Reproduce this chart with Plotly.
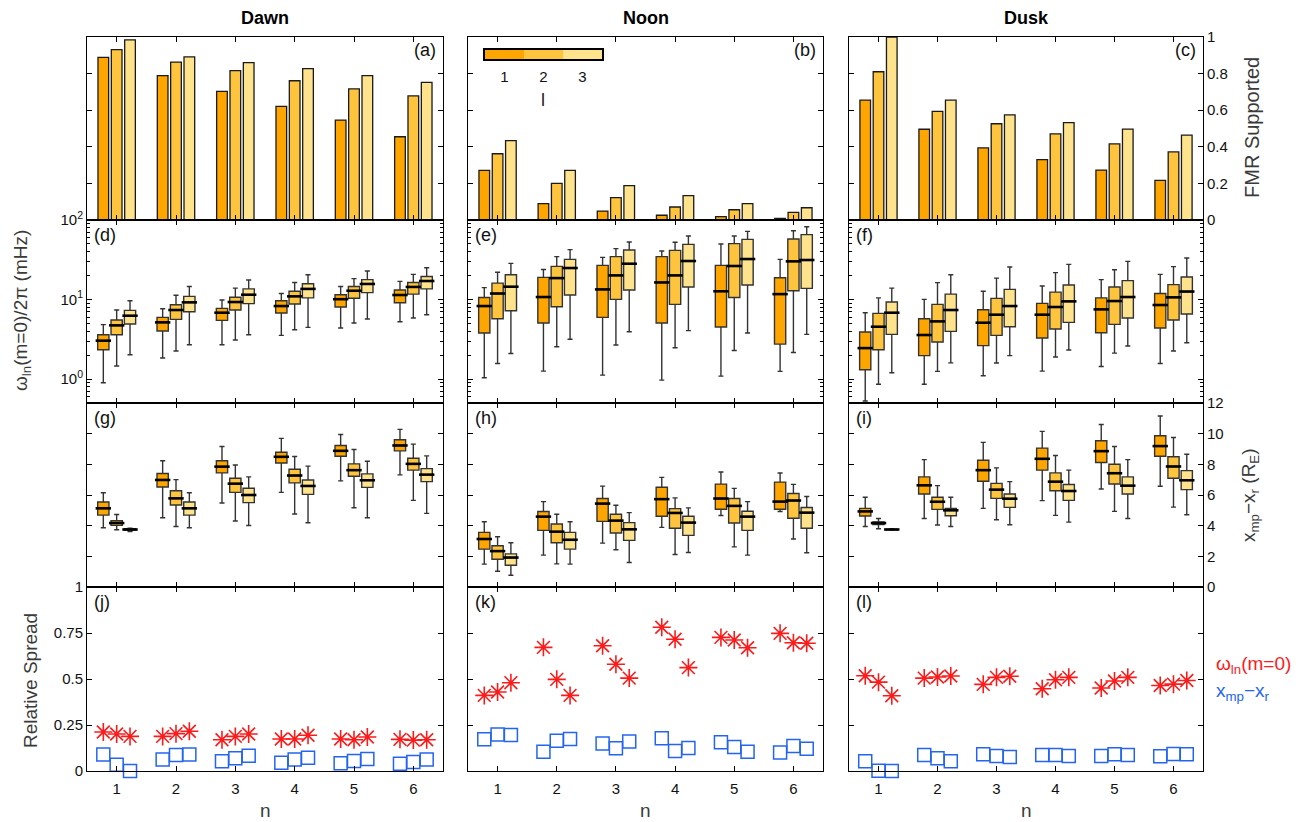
import plotly.graph_objects as go
from plotly.subplots import make_subplots

# ---------------------------------------------------------------- data
n_vals = [1, 2, 3, 4, 5, 6]
l_vals = [1, 2, 3]
regions = ["Dawn", "Noon", "Dusk"]
l_colors = ["#FFA500", "#FFC43E", "#FFE38C"]
l_offsets = [-0.225, 0.0, 0.225]

# fraction of events supporting an FMR, [l][n]
fmr_dawn = [[0.889, 0.789, 0.703, 0.621, 0.546, 0.455],
            [0.931, 0.863, 0.816, 0.761, 0.716, 0.678],
            [0.984, 0.891, 0.860, 0.827, 0.789, 0.752]]
fmr_noon = [[0.271, 0.089, 0.049, 0.026, 0.018, 0.009],
            [0.362, 0.200, 0.122, 0.071, 0.056, 0.042],
            [0.434, 0.271, 0.188, 0.133, 0.089, 0.067]]
fmr_dusk = [[0.655, 0.496, 0.394, 0.330, 0.273, 0.216],
            [0.810, 0.594, 0.526, 0.471, 0.416, 0.372],
            [1.000, 0.655, 0.574, 0.532, 0.497, 0.464]]

# eigenfrequency box statistics (low, q1, median, q3, high) in mHz, [l][n]
freq_dawn = [
    [(0.90, 2.34, 3.04, 3.61, 4.83), (1.84, 4.02, 5.16, 5.97, 7.67), (2.70, 5.47, 6.83, 7.74, 9.86),
     (3.54, 6.76, 8.28, 9.67, 11.9), (4.38, 8.05, 10.1, 11.5, 14.6), (5.26, 9.12, 11.4, 13.2, 16.9)],
    [(1.46, 3.61, 4.73, 5.52, 7.38), (2.25, 5.63, 7.38, 8.61, 11.3), (3.10, 7.38, 9.30, 10.7, 13.9),
     (4.17, 8.78, 10.96, 12.7, 16.4), (5.06, 10.4, 12.9, 14.6, 18.3), (5.85, 11.7, 14.4, 16.4, 20.7)],
    [(2.02, 4.92, 6.26, 7.31, 9.67), (2.70, 7.03, 9.21, 10.96, 14.6), (3.61, 8.87, 11.5, 13.6, 17.6),
     (4.47, 10.5, 13.6, 15.8, 20.5), (5.69, 12.2, 15.7, 17.8, 22.8), (6.45, 13.6, 17.1, 19.5, 25.1)]]
freq_noon = [
    [(1.04, 3.79, 8.28, 10.6, 14.1), (1.26, 5.06, 10.75, 19.0, 23.9), (1.12, 5.97, 13.4, 26.9, 33.9),
     (0.97, 5.06, 16.4, 34.6, 40.8), (1.09, 4.51, 12.7, 26.9, 49.9), (1.25, 2.75, 11.7, 18.8, 32.0)],
    [(1.57, 5.74, 11.9, 16.1, 22.0), (2.55, 8.13, 18.6, 26.1, 34.6), (2.68, 10.05, 20.1, 34.6, 43.6),
     (2.48, 8.69, 20.1, 41.5, 52.4), (2.29, 10.6, 26.4, 50.4, 62.9), (2.16, 12.9, 30.2, 57.7, 73.4)],
    [(2.10, 7.24, 14.5, 20.5, 28.5), (3.16, 11.4, 24.9, 32.0, 42.4), (3.94, 13.2, 28.2, 42.0, 52.9),
     (4.06, 14.4, 30.5, 49.4, 62.9), (3.79, 15.2, 32.3, 57.1, 72.0), (3.65, 13.8, 31.4, 65.4, 82.4)]]
freq_dusk = [
    [(0.53, 1.31, 2.45, 3.90, 6.83), (0.86, 1.97, 3.58, 5.74, 10.05), (1.10, 2.63, 5.11, 7.45, 12.7),
     (1.26, 3.28, 6.45, 8.95, 14.8), (1.44, 3.83, 7.52, 10.5, 17.8), (1.57, 4.38, 8.53, 11.9, 20.7)],
    [(0.86, 2.34, 4.55, 6.70, 10.5), (1.25, 2.92, 5.31, 8.69, 16.3), (1.59, 3.54, 6.45, 10.35, 18.6),
     (1.89, 4.26, 8.05, 12.4, 21.8), (2.12, 4.87, 9.57, 14.4, 23.7), (2.25, 5.52, 10.65, 15.4, 25.9)],
    [(1.20, 3.65, 6.83, 9.30, 13.9), (1.60, 3.98, 7.38, 11.7, 20.5), (1.97, 4.55, 8.28, 13.4, 25.6),
     (2.32, 5.16, 9.48, 15.2, 27.7), (2.60, 5.85, 10.75, 17.3, 30.2), (2.86, 6.58, 12.6, 19.2, 33.3)]]

# resonance location x_mp - x_r (R_E) box statistics, [l][n]
dist_dawn = [
    [(3.86, 4.69, 5.13, 5.54, 6.15), (4.52, 6.52, 6.98, 7.40, 8.23), (5.48, 7.44, 7.85, 8.23, 9.16),
     (6.17, 8.09, 8.49, 8.79, 9.69), (6.92, 8.53, 8.88, 9.23, 9.95), (7.31, 8.88, 9.23, 9.60, 10.28)],
    [(3.73, 4.02, 4.17, 4.32, 4.73), (3.95, 5.35, 5.78, 6.28, 7.00), (4.30, 6.17, 6.74, 7.09, 7.96),
     (4.76, 6.79, 7.27, 7.68, 8.51), (5.17, 7.22, 7.62, 8.03, 8.97), (5.65, 7.62, 8.03, 8.40, 9.32)],
    [(3.62, 3.71, 3.75, 3.80, 3.84), (3.86, 4.69, 5.13, 5.54, 6.15), (4.01, 5.50, 6.00, 6.44, 7.18),
     (4.19, 6.04, 6.59, 6.98, 7.88), (4.52, 6.50, 6.96, 7.38, 8.20), (4.80, 6.87, 7.33, 7.72, 8.55)]]
dist_noon = [
    [(1.49, 2.47, 3.13, 3.56, 4.26), (2.08, 3.69, 4.59, 4.92, 5.57), (2.86, 4.28, 5.44, 5.77, 6.58),
     (3.89, 4.61, 5.73, 6.51, 7.15), (4.66, 5.07, 5.77, 6.71, 7.50), (4.92, 5.07, 5.57, 6.84, 7.43)],
    [(1.03, 1.81, 2.34, 2.69, 3.28), (1.51, 2.89, 3.61, 4.11, 4.74), (2.43, 3.52, 4.33, 4.74, 5.33),
     (2.12, 3.83, 4.83, 5.11, 5.81), (2.62, 4.17, 5.29, 5.77, 6.43), (3.13, 4.48, 5.64, 6.10, 6.69)],
    [(0.77, 1.42, 1.92, 2.16, 2.89), (1.49, 2.47, 3.08, 3.56, 4.26), (1.60, 3.04, 3.76, 4.20, 4.85),
     (2.25, 3.37, 4.20, 4.61, 5.16), (2.08, 3.69, 4.59, 4.94, 5.57), (2.23, 3.83, 4.85, 5.18, 5.90)]]
dist_dusk = [
    [(3.95, 4.63, 4.93, 5.13, 5.85), (4.47, 6.07, 6.63, 7.18, 8.31), (5.13, 6.90, 7.62, 8.27, 9.43),
     (5.63, 7.62, 8.36, 9.06, 10.15), (6.39, 8.12, 8.86, 9.54, 10.6), (6.57, 8.53, 9.19, 9.86, 11.15)],
    [(3.80, 4.08, 4.17, 4.25, 4.47), (4.04, 5.06, 5.56, 5.85, 6.61), (4.39, 5.78, 6.35, 6.76, 7.77),
     (4.67, 6.28, 6.87, 7.44, 8.58), (4.93, 6.72, 7.42, 8.01, 9.16), (5.21, 7.09, 7.86, 8.49, 9.75)],
    [(3.71, 3.73, 3.75, 3.77, 3.80), (3.95, 4.65, 5.00, 5.13, 5.85), (4.06, 5.19, 5.76, 6.07, 6.87),
     (4.23, 5.65, 6.26, 6.68, 7.62), (4.47, 6.07, 6.61, 7.18, 8.31), (4.71, 6.35, 6.96, 7.59, 8.66)]]

# relative spread of each quantity, [l][n]
spread_freq_dawn = [[0.212, 0.188, 0.170, 0.174, 0.174, 0.172],
                    [0.201, 0.203, 0.188, 0.174, 0.170, 0.168],
                    [0.188, 0.216, 0.201, 0.194, 0.185, 0.170]]
spread_dist_dawn = [[0.089, 0.063, 0.053, 0.045, 0.042, 0.040],
                    [0.034, 0.087, 0.069, 0.063, 0.054, 0.049],
                    [0.000, 0.089, 0.083, 0.072, 0.065, 0.062]]
spread_freq_noon = [[0.411, 0.672, 0.681, 0.781, 0.726, 0.748],
                    [0.429, 0.498, 0.580, 0.716, 0.712, 0.697],
                    [0.480, 0.411, 0.505, 0.562, 0.670, 0.694]]
spread_dist_noon = [[0.172, 0.105, 0.149, 0.178, 0.156, 0.100],
                    [0.199, 0.165, 0.123, 0.109, 0.130, 0.136],
                    [0.196, 0.174, 0.161, 0.125, 0.105, 0.121]]
spread_freq_dusk = [[0.518, 0.505, 0.471, 0.447, 0.451, 0.465],
                    [0.483, 0.511, 0.509, 0.496, 0.489, 0.472],
                    [0.409, 0.516, 0.515, 0.509, 0.509, 0.492]]
spread_dist_dusk = [[0.053, 0.087, 0.091, 0.087, 0.082, 0.080],
                    [0.002, 0.069, 0.082, 0.087, 0.091, 0.093],
                    [0.000, 0.053, 0.076, 0.082, 0.087, 0.091]]

fmr_all = [fmr_dawn, fmr_noon, fmr_dusk]
freq_all = [freq_dawn, freq_noon, freq_dusk]
dist_all = [dist_dawn, dist_noon, dist_dusk]
spread_freq_all = [spread_freq_dawn, spread_freq_noon, spread_freq_dusk]
spread_dist_all = [spread_dist_dawn, spread_dist_noon, spread_dist_dusk]

# ---------------------------------------------------------------- layout geometry
FONT = "Liberation Sans, Arial, sans-serif"
W, H = 1299, 822
ML, MR, MT, MB = 87, 96, 37, 51
PW, PH = W - ML - MR, H - MT - MB


def px_x(px):
    return (px - ML) / PW


def px_y(py):
    return (H - MB - py) / PH


col_dom = [[px_x(87), px_x(443)], [px_x(468), px_x(823)], [px_x(849), px_x(1203)]]
row_dom = [[px_y(220), px_y(37)], [px_y(403), px_y(220)], [px_y(587), px_y(403)], [px_y(771), px_y(587)]]

fig = make_subplots(rows=4, cols=3)

BAR_W = 0.18
BOX_W = 0.19
RED = "#FF1A1A"
BLUE = "#2464F0"


def add_boxes(stats, r, c):
    for li, l in enumerate(l_vals):
        xs = [n + l_offsets[li] for n in n_vals]
        lo = [s[0] for s in stats[li]]
        q1 = [s[1] for s in stats[li]]
        md = [s[2] for s in stats[li]]
        q3 = [s[3] for s in stats[li]]
        hi = [s[4] for s in stats[li]]
        fig.add_trace(go.Box(x=xs, lowerfence=lo, q1=q1, median=md, q3=q3, upperfence=hi,
                             width=BOX_W, whiskerwidth=0.45, fillcolor=l_colors[li],
                             line=dict(color="#333333", width=1.4), showlegend=False,
                             hoverinfo="skip"), row=r, col=c)
        # heavy median bar
        fig.add_trace(go.Scatter(x=xs, y=md, mode="markers", showlegend=False, hoverinfo="skip",
                                 marker=dict(symbol="line-ew", size=11, color="black",
                                             line=dict(color="black", width=2.6))),
                      row=r, col=c)


for ci in range(3):
    c = ci + 1
    # row 1: fraction supporting FMR
    for li, l in enumerate(l_vals):
        fig.add_trace(go.Bar(x=[n + l_offsets[li] for n in n_vals], y=fmr_all[ci][li], width=BAR_W,
                             marker=dict(color=l_colors[li], line=dict(color="#1a1a1a", width=1.3)),
                             showlegend=False, hoverinfo="skip"), row=1, col=c)
    # row 2: eigenfrequency
    add_boxes(freq_all[ci], 2, c)
    # row 3: resonance location
    add_boxes(dist_all[ci], 3, c)
    # row 4: relative spreads
    for li, l in enumerate(l_vals):
        xs = [n + l_offsets[li] for n in n_vals]
        fig.add_trace(go.Scatter(x=xs, y=spread_freq_all[ci][li], mode="markers", cliponaxis=False,
                                 marker=dict(symbol="asterisk-open", size=15, color=RED,
                                             line=dict(color=RED, width=1.6)),
                                 showlegend=False, hoverinfo="skip"), row=4, col=c)
        fig.add_trace(go.Scatter(x=xs, y=spread_dist_all[ci][li], mode="markers", cliponaxis=False,
                                 marker=dict(symbol="square-open", size=13, color=BLUE,
                                             line=dict(color=BLUE, width=1.5)),
                                 showlegend=False, hoverinfo="skip"), row=4, col=c)

# l colour key in the noon panel
fig.add_trace(go.Heatmap(z=[l_vals], x=l_vals, y=[0], zmin=0.5, zmax=3.5, showscale=False,
                         colorscale=[[0, l_colors[0]], [1 / 3, l_colors[0]], [1 / 3, l_colors[1]],
                                     [2 / 3, l_colors[1]], [2 / 3, l_colors[2]], [1, l_colors[2]]],
                         hoverinfo="skip", xaxis="x13", yaxis="y13"))

# ---------------------------------------------------------------- axes
base = dict(showline=True, linecolor="black", linewidth=1, mirror="ticks", ticks="inside",
            ticklen=5, tickwidth=1.2, tickcolor="black", showgrid=False, zeroline=False,
            tickfont=dict(family=FONT, size=15, color="#111111"))

log_minor = [m * 10 ** e for e in (-1, 0, 1) for m in range(2, 10) if 0.5 <= m * 10 ** e <= 100]

for r in range(1, 5):
    for c in range(1, 4):
        k = (r - 1) * 3 + c
        xa = dict(base, domain=col_dom[c - 1], range=[0.5, 6.5], tickmode="array", tickvals=n_vals,
                  ticktext=[str(n) for n in n_vals], showticklabels=(r == 4), ticklabelstandoff=4)
        if r == 1:
            ya = dict(base, domain=row_dom[0], range=[0, 1], tickmode="array",
                      tickvals=[0, 0.2, 0.4, 0.6, 0.8, 1.0],
                      ticktext=["0", "0.2", "0.4", "0.6", "0.8", "1"],
                      showticklabels=(c == 3), side="right" if c == 3 else "left")
        elif r == 2:
            ya = dict(base, domain=row_dom[1], type="log", range=[-0.301, 2], tickmode="array",
                      tickvals=[1, 10, 100],
                      ticktext=["10<sup>0</sup>", "10<sup>1</sup>", "10<sup>2</sup>"],
                      showticklabels=(c == 1),
                      minor=dict(ticks="inside", ticklen=3, tickcolor="black", tickmode="array",
                                 tickvals=log_minor, showgrid=False))
        elif r == 3:
            ya = dict(base, domain=row_dom[2], range=[0, 12], tickmode="array",
                      tickvals=[0, 2, 4, 6, 8, 10, 12],
                      showticklabels=(c == 3), side="right" if c == 3 else "left")
        else:
            ya = dict(base, domain=row_dom[3], range=[0, 1], tickmode="array",
                      tickvals=[0, 0.25, 0.5, 0.75, 1],
                      ticktext=["0", "0.25", "0.5", "0.75", "1"],
                      showticklabels=(c == 1))
        fig.layout[f"xaxis{k}"].update(xa)
        fig.layout[f"yaxis{k}"].update(ya)

fig.update_layout(
    xaxis13=dict(domain=[px_x(485), px_x(602)], anchor="y13", range=[0.5, 3.5], tickmode="array",
                 tickvals=l_vals, ticks="", showline=True, mirror=True, linecolor="black",
                 linewidth=1.5, showgrid=False, zeroline=False, ticklabelstandoff=3,
                 tickfont=dict(family=FONT, size=15, color="#111111")),
    yaxis13=dict(domain=[px_y(59), px_y(50)], anchor="x13", range=[-0.5, 0.5], showticklabels=False,
                 ticks="", showline=True, mirror=True, linecolor="black", linewidth=1.5,
                 showgrid=False, zeroline=False),
    boxmode="overlay", barmode="overlay",
    width=W, height=H, margin=dict(l=ML, r=MR, t=MT, b=MB),
    plot_bgcolor="white", paper_bgcolor="white",
    font=dict(family=FONT, size=15, color="#111111"),
    showlegend=False,
)

# ---------------------------------------------------------------- text
ann = []
TITLE_C = "#3a3a3a"


def label(text, x, y, size=18, color="#111111", angle=0, xanchor="center"):
    return dict(text=text, x=x, y=y, xref="paper", yref="paper", xanchor=xanchor, yanchor="middle",
                textangle=angle, showarrow=False, font=dict(family=FONT, size=size, color=color))


for ci, name in enumerate(regions):
    xc = (col_dom[ci][0] + col_dom[ci][1]) / 2
    ann.append(label(f"<b>{name}</b>", xc, px_y(18), size=18, color="black"))
    ann.append(label("n", xc, px_y(811), size=19, color=TITLE_C))

letters = "abcdefghijkl"
for r in range(4):
    for ci in range(3):
        lab = f"({letters[r * 3 + ci]})"
        ytop = row_dom[r][1]
        if r == 0:
            ann.append(label(lab, col_dom[ci][1] - 5 / PW, ytop - 13 / PH, xanchor="right"))
        else:
            ann.append(label(lab, col_dom[ci][0] + 5 / PW, ytop - 15 / PH, xanchor="left"))

ann += [
    label("l", px_x(543), px_y(100), color="#222222"),
    label("ω<sub>ln</sub>(m=0)/2π (mHz)", px_x(22), px_y(311), size=19, color=TITLE_C, angle=-90),
    label("Relative Spread", px_x(30), px_y(680), size=19, color=TITLE_C, angle=-90),
    label("FMR Supported", px_x(1252), px_y(128), size=20, color=TITLE_C, angle=-90),
    label("x<sub>mp</sub>−x<sub>r</sub> (R<sub>E</sub>)", px_x(1250), px_y(495), size=19,
          color=TITLE_C, angle=-90),
    label("ω<sub>ln</sub>(m=0)", px_x(1214), px_y(665), size=19, color=RED, xanchor="left"),
    label("x<sub>mp</sub>−x<sub>r</sub>", px_x(1214), px_y(692), size=19, color=BLUE, xanchor="left"),
]
fig.update_layout(annotations=ann)

fig.write_html("out.html")
